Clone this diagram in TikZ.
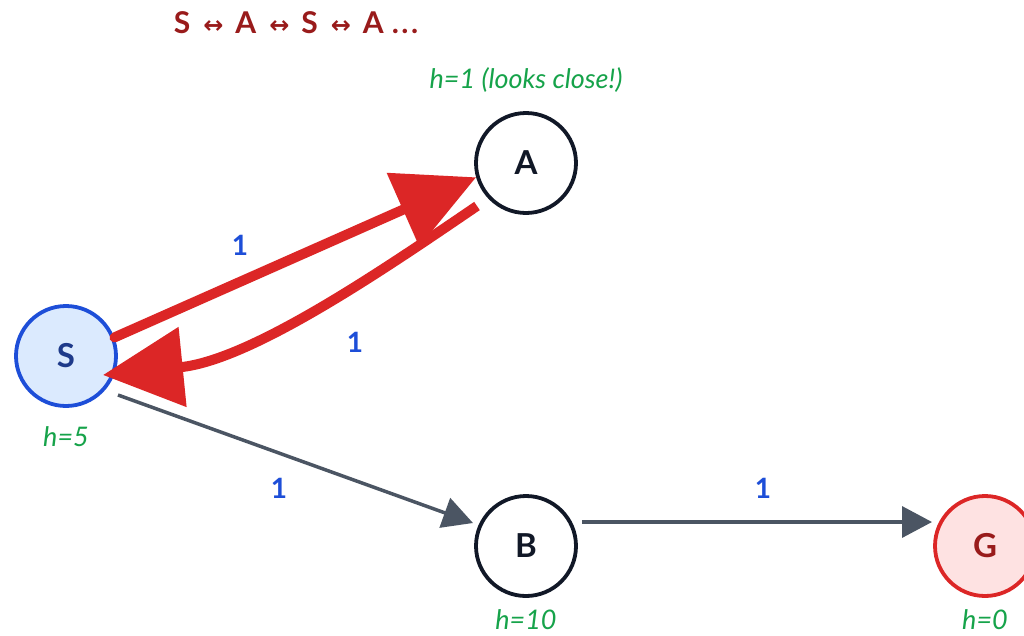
\documentclass[tikz,border=0pt]{standalone}
\usepackage{fontspec}
\setmainfont{Lato}
\newfontfamily\symfont{DejaVu Sans}
\usetikzlibrary{arrows.meta,calc}
\definecolor{redE}{HTML}{DC2626}
\definecolor{grayE}{HTML}{4B5563}
\definecolor{blueL}{HTML}{1D4ED8}
\definecolor{greenL}{HTML}{16A34A}
\definecolor{titleC}{HTML}{991B1B}
\definecolor{sFill}{HTML}{DBEAFE}
\definecolor{sDraw}{HTML}{1D4ED8}
\definecolor{sText}{HTML}{1E3A8A}
\definecolor{nDraw}{HTML}{111827}
\definecolor{gFill}{HTML}{FEE2E2}
\definecolor{gDraw}{HTML}{DC2626}
\definecolor{gText}{HTML}{991B1B}
\newcommand{\myarr}{\hspace{13pt}{\symfont\fontsize{24}{28}\selectfont ↔}\hspace{12pt}}
\newcommand{\mydots}{.\hspace{2.5pt}.\hspace{2.5pt}.}
\begin{document}
\begin{tikzpicture}[x=1pt,y=-1pt,
  state/.style={circle, minimum size=100pt, inner sep=0pt, line width=3.8pt, draw=nDraw, fill=white, text=nDraw, font=\fontsize{33}{36}\selectfont\bfseries},
  hlab/.style={text=greenL, font=\fontsize{27}{30}\selectfont\itshape, inner sep=0pt},
  wlab/.style={text=blueL, font=\fontsize{28}{30}\selectfont\bfseries, inner sep=0pt},
  titlelab/.style={text=titleC, font=\fontsize{30}{34}\selectfont\bfseries, inner sep=0pt},
  redge/.style={draw=redE, line width=10pt, -{Triangle[length=80pt,width=78pt]}},
  gedge/.style={draw=grayE, line width=3.5pt, -{Triangle[length=30pt,width=31pt]}}
]
\fill[white] (0,0) rectangle (1024,635);
\useasboundingbox (0,0) rectangle (1024,635);

\node[titlelab] (title) at (296,23) {S\myarr A\myarr S\myarr A\hspace{8pt}\mydots};

\node[state, fill=sFill, draw=sDraw, text=sText] (S) at (66,356) {S};
\node[state] (A) at (526,163) {A};
\node[state] (B) at (526,546) {B};
\node[state, fill=gFill, draw=gDraw, text=gText] (G) at (985,546) {G};

\node[hlab] (hS) at (66,437) {h=5};
\node[hlab] (hA) at (526,80) {h=1 (looks close!)};
\node[hlab] (hB) at (526,620) {h=10};
\node[hlab] (hG) at (985,620) {h=0};

\coordinate (as0) at ($(A)+(-49,43)$);
\coordinate (as1) at ($(S)+(37,19)$);
\coordinate (sb0) at ($(S)+(52,39)$);
\coordinate (sb1) at ($(B)+(-53,-23)$);
\coordinate (bg0) at ($(B)+(56,-24)$);
\coordinate (bg1) at ($(G)+(-53,-24)$);

\draw[gedge] (sb0) -- (sb1);
\draw[gedge] (bg0) -- (bg1);
\draw[redge, line cap=round] (S.21) -- (A.196);
\draw[redge] (as0) .. controls +(-91,62) and +(149,-15) .. (as1);

\node[wlab] (w1) at (240,245) {1};
\node[wlab] (w2) at (355,342) {1};
\node[wlab] (w3) at (279,488) {1};
\node[wlab] (w4) at (763,488) {1};
\end{tikzpicture}
\end{document}
